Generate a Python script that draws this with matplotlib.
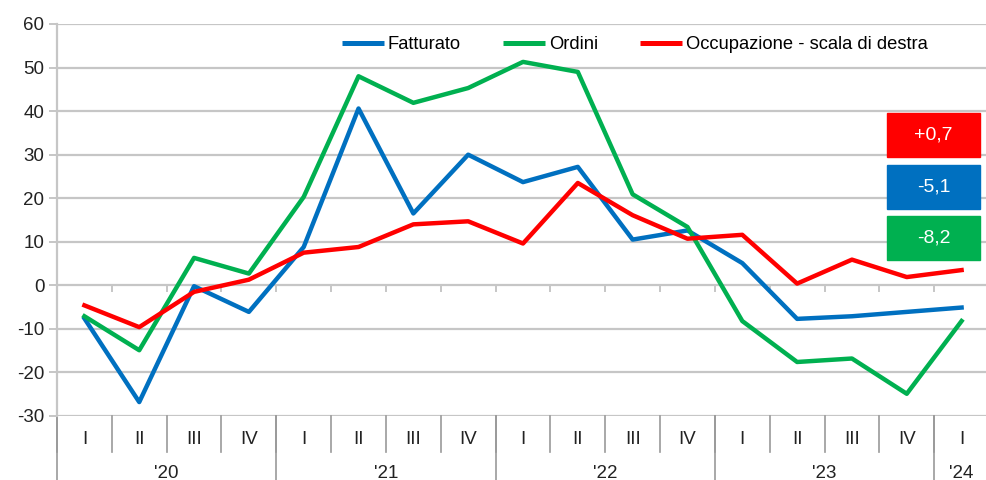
import matplotlib.pyplot as plt
import matplotlib.transforms as mtransforms
from matplotlib import font_manager
import numpy as np

# Quarters from 2020 Q1 to 2024 Q1
quarters = ['I', 'II', 'III', 'IV'] * 4 + ['I']
years = ["'20", "'21", "'22", "'23", "'24"]
year_len = [4, 4, 4, 4, 1]

fatturato = [-7.6, -26.8, -0.2, -6.1, 8.8, 40.6, 16.5, 30.0, 23.7, 27.2,
             10.5, 12.6, 5.1, -7.7, -7.1, -6.1, -5.1]
ordini = [-7.1, -14.9, 6.3, 2.7, 20.3, 48.0, 41.9, 45.3, 51.3, 49.0,
          20.9, 13.4, -8.2, -17.6, -16.8, -24.9, -8.2]
occupazione = [-4.6, -9.6, -1.5, 1.3, 7.5, 8.8, 14.0, 14.7, 9.6, 23.5,
               16.1, 10.7, 11.6, 0.4, 5.9, 1.9, 3.5]

box_labels = ['+0,7', '-5,1', '-8,2']
box_colors = ['#FF0000', '#0070C0', '#00B050']

names = {f.name for f in font_manager.fontManager.ttflist}
fam = 'Liberation Sans Narrow' if 'Liberation Sans Narrow' in names else 'Liberation Sans'
plt.rcParams['font.family'] = [fam, 'DejaVu Sans']
plt.rcParams['axes.unicode_minus'] = False

grid_c = '#c6c6c6'
fig = plt.figure(figsize=(9.86, 4.8), dpi=100)
ax = fig.add_axes([57 / 986, 64 / 480, 932 / 986, 392 / 480])

n = len(quarters)
x = np.arange(n) + 0.5
ax.plot(x, fatturato, color='#0070C0', lw=3.2, label='Fatturato', zorder=3)
ax.plot(x, ordini, color='#00B050', lw=3.2, label='Ordini', zorder=3)
ax.plot(x, occupazione, color='#FF0000', lw=3.2,
        label='Occupazione - scala di destra', zorder=4)

ax.set_xlim(0, n)
ax.set_ylim(-30, 60)
ax.set_yticks(np.arange(-30, 61, 10))
ax.yaxis.grid(True, color=grid_c, lw=1.6)
ax.set_axisbelow(True)
ax.tick_params(axis='y', length=6, width=1.4, color=grid_c, labelsize=13.5,
               labelcolor='#222222', pad=3)
ax.set_xticks([])
for s in ['top', 'right', 'bottom']:
    ax.spines[s].set_visible(False)
ax.spines['left'].set_color(grid_c)
ax.spines['left'].set_linewidth(1.6)

# small ticks on the zero line
for b in range(1, n):
    ax.plot([b, b], [0, -1.2], color=grid_c, lw=1.4, zorder=1)

# category axis below the plot
trans = mtransforms.blended_transform_factory(ax.transData, ax.transAxes)
for i, q in enumerate(quarters):
    ax.text(i + 0.5, -23 / 392, q, transform=trans, ha='center', va='center',
            fontsize=13.5, color='#222222')
for b in range(0, n + 1):
    ax.plot([b, b], [0, -36 / 392], transform=trans, color='#999999',
            lw=1.2, clip_on=False)
start = 0
for yr, ln in zip(years, year_len):
    ax.plot([start, start], [0, -80 / 392], transform=trans, color='#999999',
            lw=1.2, clip_on=False)
    ax.text(start + ln / 2, -57 / 392, yr, transform=trans, ha='center',
            va='center', fontsize=13.5, color='#222222')
    start += ln

leg = ax.legend(loc='upper center', bbox_to_anchor=(0.62, 1.0), ncol=3,
                frameon=False, fontsize=13.2, handlelength=2.3,
                handletextpad=0.2, columnspacing=2.3, borderaxespad=0.25)
for h in leg.get_lines():
    h.set_linewidth(3.6)
    h.set_solid_capstyle('butt')

# value boxes
for k, (lab, col) in enumerate(zip(box_labels, box_colors)):
    top = 113 + k * 51.5
    fig.patches.append(plt.Rectangle((887 / 986, 1 - (top + 44) / 480),
                                     93 / 986, 44 / 480, color=col,
                                     transform=fig.transFigure, zorder=5))
    fig.text(933.5 / 986, 1 - (top + 22) / 480, lab, color='white',
             ha='center', va='center', fontsize=14, zorder=6)

fig.savefig('out.png', dpi=100)
